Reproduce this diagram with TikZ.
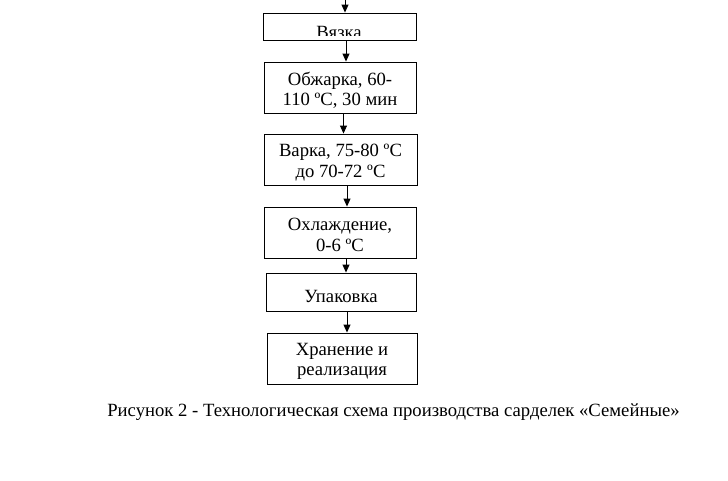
\documentclass[tikz,border=0pt]{standalone}
\usepackage{fontspec}
\setmainfont{Liberation Serif}
\usetikzlibrary{arrows.meta}

\begin{document}
\begin{tikzpicture}[x=1pt, y=-1pt, line width=0.9pt,
        every node/.style={font=\fontsize{18.67}{20.4}\selectfont},
        every label/.style={align=center, inner sep=0pt},
        stage/.style={draw, inner sep=0pt},
        arr/.style={-{Triangle[length=8pt,width=7pt]}}]
        % Page frame
        \useasboundingbox (0,0) rectangle (728,480);

        % Process stages
        \node[stage, minimum width=153pt, minimum height=27pt] (vyazka) at (339.5,26.5) {};
        \node[stage, minimum width=152pt, minimum height=51pt,
            label={[yshift=-3pt]center:Обжарка, 60-\\110 ºC, 30 мин}] (obzharka) at (340,87.5) {};
        \node[stage, minimum width=153pt, minimum height=51pt,
            label={[yshift=-3pt]center:Варка, 75-80 ºC\\до 70-72 ºC}] (varka) at (340.5,159.5) {};
        \node[stage, minimum width=152pt, minimum height=51pt,
            label={[yshift=-2.5pt]center:Охлаждение,\\0-6 ºC}] (okhl) at (340,232.5) {};
        \node[stage, minimum width=150pt, minimum height=38pt,
            label={[yshift=-4pt]center:Упаковка}] (upak) at (341,292) {};
        \node[stage, minimum width=150pt, minimum height=51pt,
            label={[yshift=-3pt]center:Хранение и\\реализация}] (khran) at (342,358.5) {};

        % Label of the first box, cut off at the bottom
        \begin{scope}
            \clip (vyazka.north west) rectangle (416,35.5);
            \node[anchor=base] (vyazkatext) at (339,38) {Вязка};
        \end{scope}

        % Arrows
        \coordinate (top) at (345,0);
        \draw[arr] (top) -- (top |- vyazka.north);
        \draw[arr] ([xshift=6.5pt]vyazka.south) -- ([xshift=6pt]obzharka.north);
        \draw[arr] ([xshift=3.5pt]obzharka.south) -- ([xshift=3pt]varka.north);
        \draw[arr] ([xshift=6.5pt]varka.south) -- ([xshift=7pt]okhl.north);
        \draw[arr] ([xshift=6pt]okhl.south) -- ([xshift=5pt]upak.north);
        \draw[arr] ([xshift=6pt]upak.south) -- ([xshift=5pt]khran.north);

        % Caption
        \node[anchor=base] (caption) at (393.5,416.4) {Рисунок 2 - Технологическая схема производства сарделек «Семейные»};
\end{tikzpicture}
\end{document}
